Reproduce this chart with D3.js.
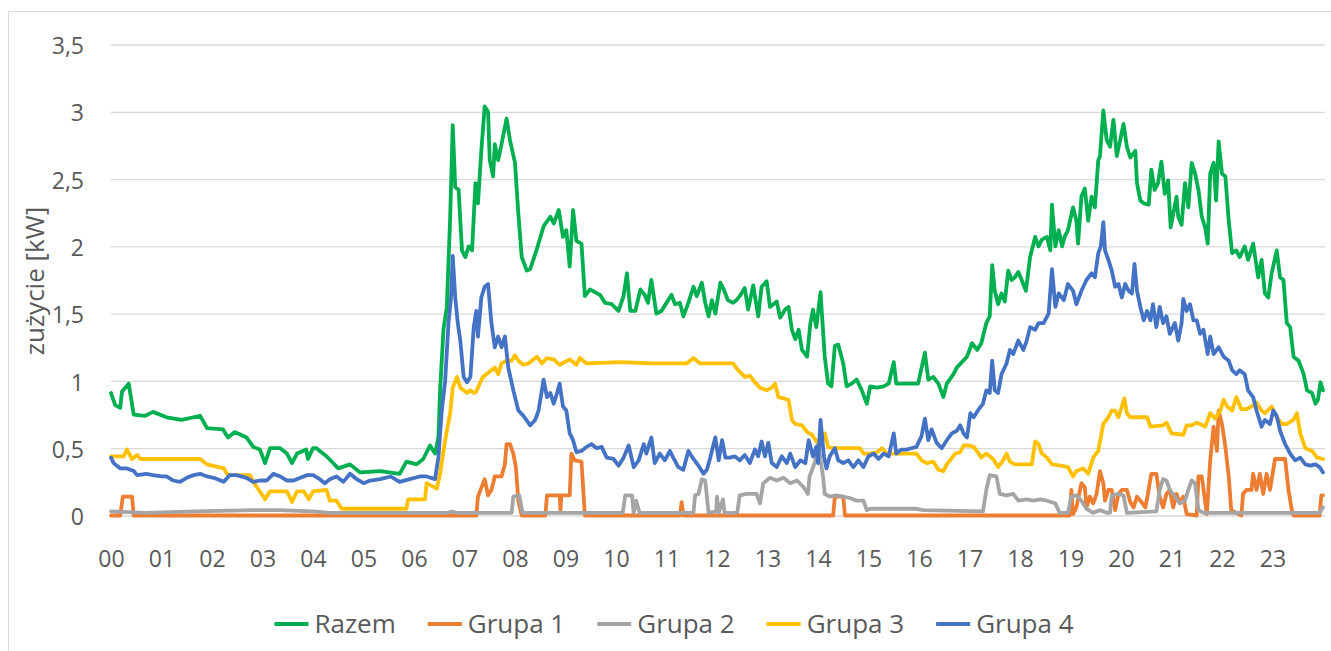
<!DOCTYPE html>
<html lang="pl">
<head>
<meta charset="utf-8" />
<script src="https://cdn.jsdelivr.net/npm/d3@7"></script>
<style>
  body { margin: 0; background: #fff; }
  text { font-family: "Open Sans", "Noto Sans", sans-serif; fill: #595959; }
</style>
</head>
<body>
<svg id="chart" width="1331" height="651"></svg>
<script>
// [minute of day, kW]
var razem = [
  [0,0.91],[5,0.82],[11,0.80],[13,0.92],[21,0.98],[27,0.75],[40,0.74],[50,0.77],[66,0.73],[84,0.71],
  [98,0.73],[106,0.74],[114,0.65],[133,0.64],[139,0.58],[147,0.62],[161,0.58],[169,0.51],[177,0.49],[183,0.39],
  [189,0.50],[201,0.50],[209,0.46],[215,0.39],[221,0.46],[232,0.49],[234,0.42],[240,0.50],[244,0.50],[256,0.44],
  [270,0.35],[284,0.38],[296,0.32],[320,0.33],[343,0.31],[351,0.40],[363,0.38],[371,0.42],[379,0.52],[385,0.46],
  [389,0.58],[391,0.93],[395,1.38],[399,1.55],[403,2.22],[406,2.90],[409,2.44],[413,2.42],[417,1.97],[421,1.92],
  [425,2.00],[429,1.97],[433,2.47],[436,2.32],[440,2.71],[444,3.04],[448,3.00],[450,2.64],[454,2.52],[456,2.76],
  [460,2.64],[464,2.76],[470,2.95],[474,2.79],[480,2.62],[484,2.24],[488,1.92],[494,1.82],[498,1.83],[506,1.98],
  [514,2.15],[522,2.22],[526,2.17],[532,2.27],[537,2.07],[541,2.12],[545,1.85],[549,2.27],[553,2.04],[559,2.02],
  [563,1.63],[569,1.68],[581,1.64],[587,1.58],[595,1.57],[603,1.52],[609,1.63],[613,1.80],[617,1.52],[623,1.52],
  [629,1.68],[634,1.64],[638,1.58],[642,1.75],[648,1.50],[654,1.52],[660,1.58],[666,1.64],[670,1.57],[676,1.58],
  [680,1.48],[686,1.58],[692,1.70],[696,1.63],[702,1.73],[706,1.58],[710,1.48],[714,1.60],[718,1.50],[724,1.73],
  [728,1.68],[733,1.60],[739,1.58],[743,1.60],[747,1.63],[753,1.69],[757,1.53],[763,1.71],[769,1.48],[773,1.70],
  [779,1.74],[783,1.55],[791,1.59],[795,1.47],[801,1.53],[805,1.55],[809,1.38],[813,1.31],[817,1.38],[821,1.23],
  [827,1.18],[831,1.43],[834,1.53],[838,1.40],[843,1.66],[848,1.18],[852,0.98],[856,0.96],[860,1.26],[864,1.27],
  [870,1.13],[874,0.96],[880,0.98],[886,1.01],[892,0.93],[898,0.83],[902,0.96],[910,0.95],[918,0.96],[924,0.98],
  [930,1.14],[933,0.98],[949,0.98],[959,0.98],[967,1.21],[971,1.01],[977,1.03],[983,0.98],[989,0.88],[993,0.98],
  [1001,1.05],[1005,1.10],[1011,1.14],[1017,1.18],[1023,1.28],[1029,1.23],[1034,1.28],[1040,1.43],[1044,1.48],[1047,1.86],
  [1050,1.67],[1054,1.57],[1058,1.65],[1062,1.59],[1066,1.82],[1070,1.75],[1074,1.77],[1078,1.81],[1082,1.75],[1087,1.67],
  [1092,1.92],[1098,2.07],[1102,2.00],[1106,2.05],[1112,2.07],[1116,1.97],[1118,2.31],[1122,2.00],[1126,2.12],[1130,2.00],
  [1133,2.07],[1137,2.12],[1143,2.29],[1147,2.19],[1149,2.02],[1153,2.37],[1157,2.43],[1161,2.19],[1165,2.37],[1169,2.29],
  [1173,2.64],[1175,2.67],[1179,3.01],[1183,2.79],[1187,2.74],[1191,2.94],[1195,2.67],[1199,2.79],[1203,2.91],[1207,2.74],
  [1211,2.66],[1217,2.71],[1219,2.47],[1223,2.34],[1227,2.32],[1233,2.31],[1236,2.57],[1240,2.42],[1244,2.47],[1248,2.63],
  [1252,2.39],[1256,2.49],[1259,2.14],[1262,2.24],[1266,2.37],[1268,2.22],[1272,2.16],[1276,2.47],[1280,2.29],[1284,2.62],
  [1288,2.54],[1292,2.42],[1296,2.22],[1300,2.14],[1303,2.02],[1306,2.54],[1310,2.62],[1313,2.34],[1316,2.78],[1320,2.54],
  [1324,2.52],[1328,2.19],[1332,1.95],[1337,1.97],[1341,1.92],[1347,2.00],[1351,1.90],[1357,2.02],[1363,1.77],[1367,1.90],
  [1371,1.65],[1375,1.62],[1379,1.80],[1385,1.97],[1389,1.77],[1393,1.75],[1397,1.43],[1401,1.40],[1405,1.18],[1411,1.15],
  [1417,1.05],[1421,0.93],[1427,0.91],[1431,0.83],[1434,0.86],[1437,0.99],[1440,0.93]];

var grupa1 = [
  [0,0],[11,0],[14,0.14],[25,0.14],[27,0],[434,0],[436,0.14],[444,0.27],[448,0.15],[452,0.19],
  [456,0.29],[464,0.29],[468,0.38],[470,0.53],[474,0.53],[478,0.46],[481,0.36],[484,0.11],[488,0],[516,0],
  [518,0.15],[533,0.15],[534,0.04],[535,0.15],[545,0.15],[547,0.46],[551,0.41],[559,0.40],[563,0],[676,0],
  [678,0.10],[680,0],[858,0],[860,0.14],[870,0.14],[872,0],[1139,0],[1141,0.19],[1143,0.01],[1147,0.06],
  [1153,0.24],[1157,0.21],[1159,0.06],[1163,0.14],[1167,0.09],[1171,0.16],[1175,0.33],[1179,0.24],[1181,0.11],[1185,0.19],
  [1189,0.19],[1193,0.04],[1197,0.16],[1201,0.19],[1207,0.19],[1211,0.10],[1215,0.06],[1219,0.14],[1223,0.11],[1229,0.06],
  [1232,0.16],[1236,0.31],[1242,0.31],[1246,0.14],[1250,0.06],[1254,0.16],[1258,0.19],[1262,0.06],[1266,0.16],[1270,0.09],
  [1274,0.14],[1278,0.01],[1290,0],[1292,0.29],[1296,0.29],[1302,0.01],[1306,0.41],[1310,0.66],[1314,0.48],[1316,0.78],
  [1320,0.68],[1324,0.51],[1328,0.29],[1331,0.04],[1343,0],[1345,0.16],[1349,0.19],[1355,0.19],[1357,0.31],[1361,0.19],
  [1365,0.31],[1369,0.16],[1373,0.31],[1377,0.19],[1383,0.42],[1395,0.42],[1399,0.19],[1403,0.04],[1405,0],[1436,0],
  [1438,0.15],[1440,0.15]];

var grupa2 = [
  [0,0.03],[40,0.02],[100,0.03],[170,0.04],[200,0.04],[240,0.03],[260,0.02],[330,0.02],[400,0.02],[405,0.03],
  [410,0.02],[476,0.02],[478,0.14],[485,0.15],[489,0.02],[608,0.02],[611,0.15],[619,0.15],[621,0.02],[624,0.11],
  [628,0.02],[692,0.02],[694,0.15],[698,0.16],[702,0.27],[706,0.26],[710,0.02],[719,0.03],[720,0.14],[722,0.02],
  [727,0.12],[729,0.02],[744,0.02],[747,0.15],[755,0.16],[767,0.16],[771,0.09],[775,0.24],[783,0.28],[791,0.26],
  [799,0.28],[807,0.24],[815,0.26],[823,0.21],[828,0.16],[830,0.29],[836,0.39],[840,0.54],[843,0.41],[846,0.29],
  [848,0.16],[854,0.14],[862,0.15],[870,0.14],[878,0.13],[886,0.11],[894,0.11],[898,0.04],[902,0.05],[957,0.05],
  [965,0.04],[1036,0.03],[1040,0.19],[1044,0.30],[1052,0.29],[1056,0.16],[1064,0.15],[1072,0.16],[1078,0.11],[1088,0.12],
  [1096,0.11],[1104,0.12],[1112,0.11],[1122,0.09],[1127,0.02],[1137,0.02],[1141,0.14],[1147,0.15],[1153,0.11],[1159,0.05],
  [1167,0.02],[1175,0.04],[1183,0.02],[1187,0.02],[1189,0.15],[1197,0.16],[1203,0.15],[1207,0.02],[1242,0.03],[1246,0.19],
  [1250,0.27],[1254,0.26],[1258,0.19],[1264,0.14],[1270,0.09],[1276,0.11],[1280,0.19],[1284,0.26],[1288,0.24],[1292,0.04],
  [1298,0.02],[1436,0.02],[1440,0.06]];

var grupa3 = [
  [0,0.44],[15,0.44],[19,0.49],[25,0.42],[31,0.45],[35,0.42],[106,0.42],[114,0.38],[134,0.35],[139,0.30],
  [165,0.30],[169,0.25],[179,0.16],[183,0.12],[189,0.18],[209,0.18],[215,0.10],[221,0.18],[229,0.18],[235,0.12],
  [240,0.18],[256,0.19],[260,0.11],[268,0.11],[274,0.05],[351,0.05],[353,0.12],[373,0.12],[375,0.24],[381,0.22],
  [387,0.20],[391,0.31],[395,0.48],[399,0.63],[403,0.76],[406,0.95],[411,1.03],[415,0.95],[419,0.93],[423,0.91],
  [427,0.93],[431,0.91],[434,0.92],[438,0.98],[442,1.03],[446,1.05],[450,1.07],[456,1.10],[460,1.05],[464,1.13],
  [470,1.15],[476,1.15],[480,1.19],[484,1.15],[490,1.12],[496,1.13],[506,1.18],[512,1.13],[518,1.17],[526,1.16],
  [533,1.12],[545,1.16],[553,1.12],[557,1.17],[565,1.13],[605,1.14],[644,1.13],[684,1.13],[692,1.17],[700,1.13],
  [739,1.13],[745,1.08],[753,1.03],[759,1.04],[765,0.99],[771,0.95],[779,0.93],[785,0.95],[789,0.98],[793,0.88],
  [799,0.87],[805,0.86],[809,0.71],[813,0.68],[821,0.67],[827,0.62],[833,0.60],[838,0.55],[844,0.54],[848,0.61],
  [852,0.51],[858,0.50],[890,0.50],[894,0.46],[902,0.46],[910,0.47],[916,0.50],[922,0.46],[957,0.46],[963,0.41],
  [969,0.39],[977,0.40],[983,0.34],[989,0.33],[993,0.38],[997,0.41],[1003,0.46],[1009,0.47],[1013,0.52],[1019,0.52],
  [1025,0.51],[1031,0.46],[1034,0.43],[1040,0.46],[1048,0.42],[1054,0.36],[1060,0.41],[1064,0.46],[1068,0.40],[1074,0.38],
  [1094,0.38],[1098,0.55],[1102,0.53],[1106,0.46],[1112,0.43],[1118,0.38],[1128,0.37],[1137,0.36],[1143,0.29],[1147,0.33],
  [1155,0.35],[1161,0.31],[1167,0.43],[1173,0.48],[1179,0.68],[1185,0.73],[1189,0.78],[1193,0.78],[1197,0.73],[1201,0.81],
  [1204,0.87],[1207,0.76],[1211,0.73],[1219,0.73],[1231,0.73],[1235,0.66],[1250,0.67],[1254,0.69],[1260,0.61],[1274,0.60],
  [1278,0.67],[1284,0.67],[1290,0.69],[1294,0.68],[1300,0.66],[1306,0.76],[1312,0.72],[1318,0.78],[1322,0.86],[1326,0.81],
  [1332,0.78],[1337,0.88],[1343,0.79],[1349,0.79],[1355,0.81],[1361,0.84],[1367,0.78],[1371,0.76],[1379,0.81],[1385,0.73],
  [1391,0.68],[1397,0.68],[1405,0.71],[1409,0.76],[1413,0.61],[1419,0.50],[1427,0.48],[1433,0.43],[1440,0.42]];

var grupa4 = [
  [0,0.43],[3,0.39],[11,0.35],[19,0.35],[27,0.33],[31,0.30],[42,0.31],[50,0.30],[60,0.29],[66,0.29],
  [74,0.26],[82,0.25],[90,0.28],[98,0.30],[106,0.31],[114,0.29],[122,0.28],[134,0.25],[141,0.30],[149,0.30],
  [161,0.28],[169,0.25],[177,0.26],[185,0.26],[193,0.31],[201,0.29],[209,0.26],[217,0.26],[225,0.28],[233,0.30],
  [240,0.30],[248,0.27],[254,0.24],[260,0.27],[268,0.29],[276,0.25],[284,0.31],[292,0.27],[300,0.24],[308,0.26],
  [320,0.27],[332,0.29],[343,0.25],[355,0.27],[367,0.29],[375,0.29],[385,0.27],[389,0.43],[393,0.78],[397,1.00],
  [401,1.43],[404,1.62],[406,1.93],[409,1.62],[412,1.43],[415,1.30],[419,1.03],[423,0.99],[427,1.03],[431,1.40],
  [434,1.52],[436,1.33],[440,1.62],[444,1.70],[448,1.72],[452,1.43],[456,1.25],[460,1.33],[464,1.25],[468,1.33],
  [472,1.10],[478,0.93],[484,0.78],[490,0.74],[498,0.67],[504,0.71],[508,0.78],[514,1.01],[518,0.88],[522,0.91],
  [526,0.83],[530,0.91],[533,0.98],[537,0.81],[541,0.78],[545,0.61],[549,0.56],[553,0.47],[559,0.48],[565,0.51],
  [571,0.53],[577,0.50],[583,0.51],[589,0.43],[597,0.42],[603,0.37],[609,0.43],[615,0.52],[621,0.36],[627,0.41],
  [633,0.53],[636,0.46],[642,0.58],[646,0.39],[652,0.46],[658,0.41],[664,0.48],[668,0.43],[674,0.36],[680,0.34],
  [686,0.48],[692,0.42],[698,0.37],[704,0.31],[708,0.34],[712,0.43],[718,0.58],[722,0.41],[726,0.56],[730,0.43],
  [735,0.43],[741,0.44],[747,0.41],[753,0.45],[759,0.39],[765,0.49],[769,0.44],[773,0.55],[777,0.44],[781,0.54],
  [785,0.39],[791,0.36],[797,0.44],[803,0.39],[807,0.46],[813,0.36],[819,0.41],[825,0.39],[829,0.56],[834,0.44],
  [838,0.51],[840,0.39],[843,0.71],[847,0.44],[850,0.35],[854,0.44],[860,0.50],[864,0.41],[870,0.39],[876,0.41],
  [882,0.36],[888,0.41],[894,0.36],[900,0.44],[906,0.46],[912,0.42],[918,0.46],[924,0.44],[930,0.61],[933,0.46],
  [939,0.49],[945,0.49],[951,0.50],[957,0.51],[963,0.59],[967,0.72],[971,0.56],[975,0.64],[981,0.54],[987,0.50],
  [993,0.56],[999,0.61],[1005,0.63],[1009,0.67],[1013,0.61],[1017,0.58],[1021,0.76],[1025,0.73],[1031,0.79],[1036,0.83],
  [1040,0.93],[1044,0.91],[1047,1.15],[1050,0.93],[1054,0.91],[1058,1.05],[1064,1.13],[1068,1.23],[1072,1.20],[1078,1.30],
  [1084,1.23],[1088,1.30],[1092,1.40],[1098,1.38],[1102,1.43],[1108,1.43],[1114,1.50],[1118,1.83],[1122,1.55],[1126,1.65],
  [1132,1.60],[1137,1.72],[1143,1.67],[1147,1.57],[1153,1.67],[1159,1.75],[1165,1.80],[1169,1.77],[1173,1.95],[1176,2.00],
  [1179,2.18],[1181,1.97],[1185,1.90],[1189,1.82],[1193,1.70],[1197,1.72],[1201,1.62],[1205,1.72],[1209,1.67],[1213,1.65],
  [1216,1.87],[1219,1.67],[1223,1.55],[1227,1.45],[1231,1.52],[1235,1.45],[1238,1.57],[1242,1.40],[1246,1.55],[1250,1.43],
  [1254,1.48],[1258,1.35],[1264,1.43],[1268,1.30],[1272,1.43],[1274,1.61],[1278,1.52],[1282,1.57],[1286,1.45],[1290,1.45],
  [1294,1.35],[1298,1.38],[1303,1.20],[1306,1.33],[1310,1.20],[1316,1.25],[1322,1.18],[1328,1.15],[1332,1.08],[1337,1.05],
  [1341,1.08],[1347,1.05],[1351,0.93],[1357,0.88],[1361,0.78],[1367,0.66],[1371,0.71],[1377,0.68],[1381,0.78],[1385,0.74],
  [1389,0.63],[1395,0.53],[1401,0.46],[1407,0.41],[1413,0.43],[1419,0.38],[1425,0.37],[1431,0.38],[1436,0.36],[1440,0.32]];

var seriesNames = ["Razem", "Grupa 1", "Grupa 2", "Grupa 3", "Grupa 4"];
var seriesColors = ["#00b050", "#ed7d31", "#a5a5a5", "#ffc000", "#4472c4"];
var hourLabels = ["00","01","02","03","04","05","06","07","08","09","10","11",
                  "12","13","14","15","16","17","18","19","20","21","22","23"];
var yTicks = [0, 0.5, 1, 1.5, 2, 2.5, 3, 3.5];

var svg = d3.select("#chart");
var plotLeft = 111, plotRight = 1323, plotTop = 44.5, plotBottom = 515.5;

// chart area border
svg.append("rect")
   .attr("x", 8.5).attr("y", 11.5)
   .attr("width", 1340).attr("height", 660)
   .attr("fill", "#fff").attr("stroke", "#d9d9d9");

var x = d3.scaleLinear().domain([0, 1440]).range([plotLeft, plotRight]);
var y = d3.scaleLinear().domain([0, 3.5]).range([plotBottom, plotTop]);

// y axis + gridlines
var gy = svg.append("g")
   .attr("transform", "translate(" + plotLeft + ",0)")
   .call(d3.axisLeft(y)
      .tickValues(yTicks)
      .tickSize(-(plotRight - plotLeft + 2))
      .tickPadding(27)
      .tickFormat(function(d) { return String(d).replace(".", ","); }));
gy.select(".domain").remove();
gy.selectAll(".tick line").attr("stroke", "#d9d9d9").attr("stroke-width", 1.3);
gy.selectAll(".tick text").attr("font-size", 23).attr("dy", "0.4em");

// x axis labels
var gx = svg.append("g")
   .attr("transform", "translate(0," + plotBottom + ")")
   .call(d3.axisBottom(x)
      .tickValues(hourLabels.map(function(d, i) { return i * 60; }))
      .tickFormat(function(d, i) { return hourLabels[i]; })
      .tickSize(0)
      .tickPadding(35));
gx.select(".domain").remove();
gx.selectAll(".tick text").attr("font-size", 23);

// series
var line = d3.line()
   .x(function(d) { return x(d[0]); })
   .y(function(d) { return y(d[1]); });

svg.append("g").selectAll("path")
   .data([razem, grupa1, grupa2, grupa3, grupa4])
   .join("path")
   .attr("d", line)
   .attr("fill", "none")
   .attr("stroke", function(d, i) { return seriesColors[i]; })
   .attr("stroke-width", 3.8)
   .attr("stroke-linejoin", "round")
   .attr("stroke-linecap", "round");

// y title
svg.append("text")
   .attr("transform", "translate(44,281) rotate(-90)")
   .attr("text-anchor", "middle")
   .attr("font-size", 26)
   .text("zużycie [kW]");

// legend
var legend = svg.append("g");
var items = legend.selectAll("g").data(seriesNames).join("g");
items.append("line")
   .attr("x1", 0).attr("x2", 34).attr("y1", 0).attr("y2", 0)
   .attr("stroke", function(d, i) { return seriesColors[i]; })
   .attr("stroke-width", 4);
items.append("text")
   .attr("x", 40).attr("y", 9)
   .attr("font-size", 26)
   .text(function(d) { return d; });
var offs = [], pos = 0;
items.each(function() {
  offs.push(pos);
  pos += 40 + this.querySelector("text").getComputedTextLength() + 32;
});
var total = pos - 32;
items.attr("transform", function(d, i) { return "translate(" + offs[i] + ",0)"; });
legend.attr("transform", "translate(" + (674 - total / 2) + ",624)");
</script>
</body>
</html>
